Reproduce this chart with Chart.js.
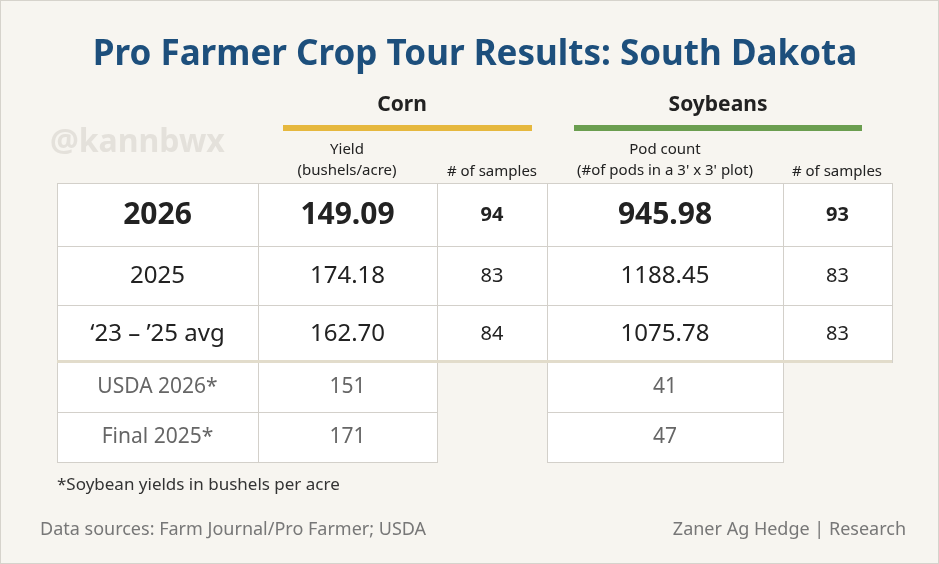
<!DOCTYPE html>
<html><head><meta charset="utf-8">
<script src="https://cdn.jsdelivr.net/npm/chart.js@4"></script>
<style>html,body{margin:0;padding:0;background:#f7f5f0}canvas{display:block}</style>
</head><body>
<canvas id="c" width="939" height="564"></canvas>
<script>
// table data
const rowLabels = ['2026', '2025', '\u201823 \u2013 \u201925 avg'];
const cornYield = ['149.09', '174.18', '162.70'];
const cornSamples = ['94', '83', '84'];
const podCount = ['945.98', '1188.45', '1075.78'];
const soySamples = ['93', '83', '83'];
const usdaLabels = ['USDA 2026*', 'Final 2025*'];
const usdaCorn = ['151', '171'];
const usdaSoy = ['41', '47'];

// layout (x/y scale units = pixels)
const colEdges = [57, 258, 437, 547, 783, 892];
const rowEdges = [183, 246, 305, 362, 412, 462];
const F = '"Noto Sans", Roboto, sans-serif';

const tablePlugin = {
  id: 'table',
  beforeDraw(chart) {
    const c = chart.ctx, xs = chart.scales.x, ys = chart.scales.y;
    const X = v => xs.getPixelForValue(v), Y = v => ys.getPixelForValue(v);
    c.save();
    c.fillStyle = '#f7f5f0'; c.fillRect(0, 0, chart.width, chart.height);
    c.strokeStyle = '#d6d3cc'; c.lineWidth = 1; c.strokeRect(0.5, 0.5, chart.width - 1, chart.height - 1);
    const txt = (s, x, y, font, color, align) => {
      c.font = font; c.fillStyle = color; c.textAlign = align || 'center'; c.textBaseline = 'middle';
      c.fillText(s, X(x), Y(y));
    };
    txt('Pro Farmer Crop Tour Results: South Dakota', 475, 55, 'bold 35px ' + F, '#1d4f7c');
    txt('@kannbwx', 50, 143, 'bold 32px ' + F, '#e4e1db', 'left');
    txt('Corn', 402, 105, 'bold 21px ' + F, '#222');
    txt('Soybeans', 718, 105, 'bold 21px ' + F, '#222');
    c.fillStyle = '#e6b83e'; c.fillRect(X(283), Y(125), X(532) - X(283), 6);
    c.fillStyle = '#6b9e50'; c.fillRect(X(574), Y(125), X(862) - X(574), 6);
    txt('Yield', 347, 150, '15px ' + F, '#222');
    txt('(bushels/acre)', 347, 171, '15px ' + F, '#222');
    txt('# of samples', 492, 172, '15px ' + F, '#222');
    txt('Pod count', 665, 150, '15px ' + F, '#222');
    txt("(#of pods in a 3' x 3' plot)", 665, 171, '15px ' + F, '#222');
    txt('# of samples', 837, 172, '15px ' + F, '#222');

    const cell = (x0, x1, y0, y1) => {
      c.fillStyle = '#fff'; c.fillRect(X(x0), Y(y0), X(x1) - X(x0), Y(y1) - Y(y0));
      c.strokeStyle = '#d3d0ca'; c.lineWidth = 1;
      c.strokeRect(X(x0) + 0.5, Y(y0) + 0.5, X(x1) - X(x0), Y(y1) - Y(y0));
    };
    for (let r = 0; r < 3; r++) for (let k = 0; k < 5; k++)
      cell(colEdges[k], colEdges[k + 1], rowEdges[r], rowEdges[r + 1]);
    for (let r = 3; r < 5; r++) {
      cell(colEdges[0], colEdges[1], rowEdges[r], rowEdges[r + 1]);
      cell(colEdges[1], colEdges[2], rowEdges[r], rowEdges[r + 1]);
      cell(colEdges[3], colEdges[4], rowEdges[r], rowEdges[r + 1]);
    }
    c.fillStyle = '#e2dccb'; c.fillRect(X(57), Y(360), X(892) - X(57), 3);

    const mid = k => (colEdges[k] + colEdges[k + 1]) / 2;
    const rm = r => (rowEdges[r] + rowEdges[r + 1]) / 2;
    for (let r = 0; r < 3; r++) {
      const big = r === 0 ? 'bold 30px ' : '24px ';
      const sm = r === 0 ? 'bold 20px ' : '20px ';
      const vals = [rowLabels[r], cornYield[r], cornSamples[r], podCount[r], soySamples[r]];
      vals.forEach((v, k) => txt(v, mid(k), rm(r) + 1, ((k === 2 || k === 4) ? sm : big) + F, '#222'));
    }
    for (let i = 0; i < 2; i++) {
      txt(usdaLabels[i], mid(0), rm(i + 3), '21px ' + F, '#666');
      txt(usdaCorn[i], mid(1), rm(i + 3), '21px ' + F, '#666');
      txt(usdaSoy[i], mid(3), rm(i + 3), '21px ' + F, '#666');
    }
    txt('*Soybean yields in bushels per acre', 57, 485, '17px ' + F, '#333', 'left');
    txt('Data sources: Farm Journal/Pro Farmer; USDA', 40, 530, '18px ' + F, '#777', 'left');
    txt('Zaner Ag Hedge | Research', 906, 530, '18px ' + F, '#777', 'right');
    c.restore();
  }
};

new Chart(document.getElementById('c'), {
  type: 'scatter',
  data: { datasets: [{ data: [], pointRadius: 0 }] },
  options: {
    responsive: false, animation: false,
    layout: { padding: 0 },
    plugins: { legend: { display: false }, tooltip: { enabled: false } },
    scales: {
      x: { type: 'linear', min: 0, max: 939, display: false },
      y: { type: 'linear', min: 0, max: 564, reverse: true, display: false }
    }
  },
  plugins: [tablePlugin]
});
</script>
</body></html>
